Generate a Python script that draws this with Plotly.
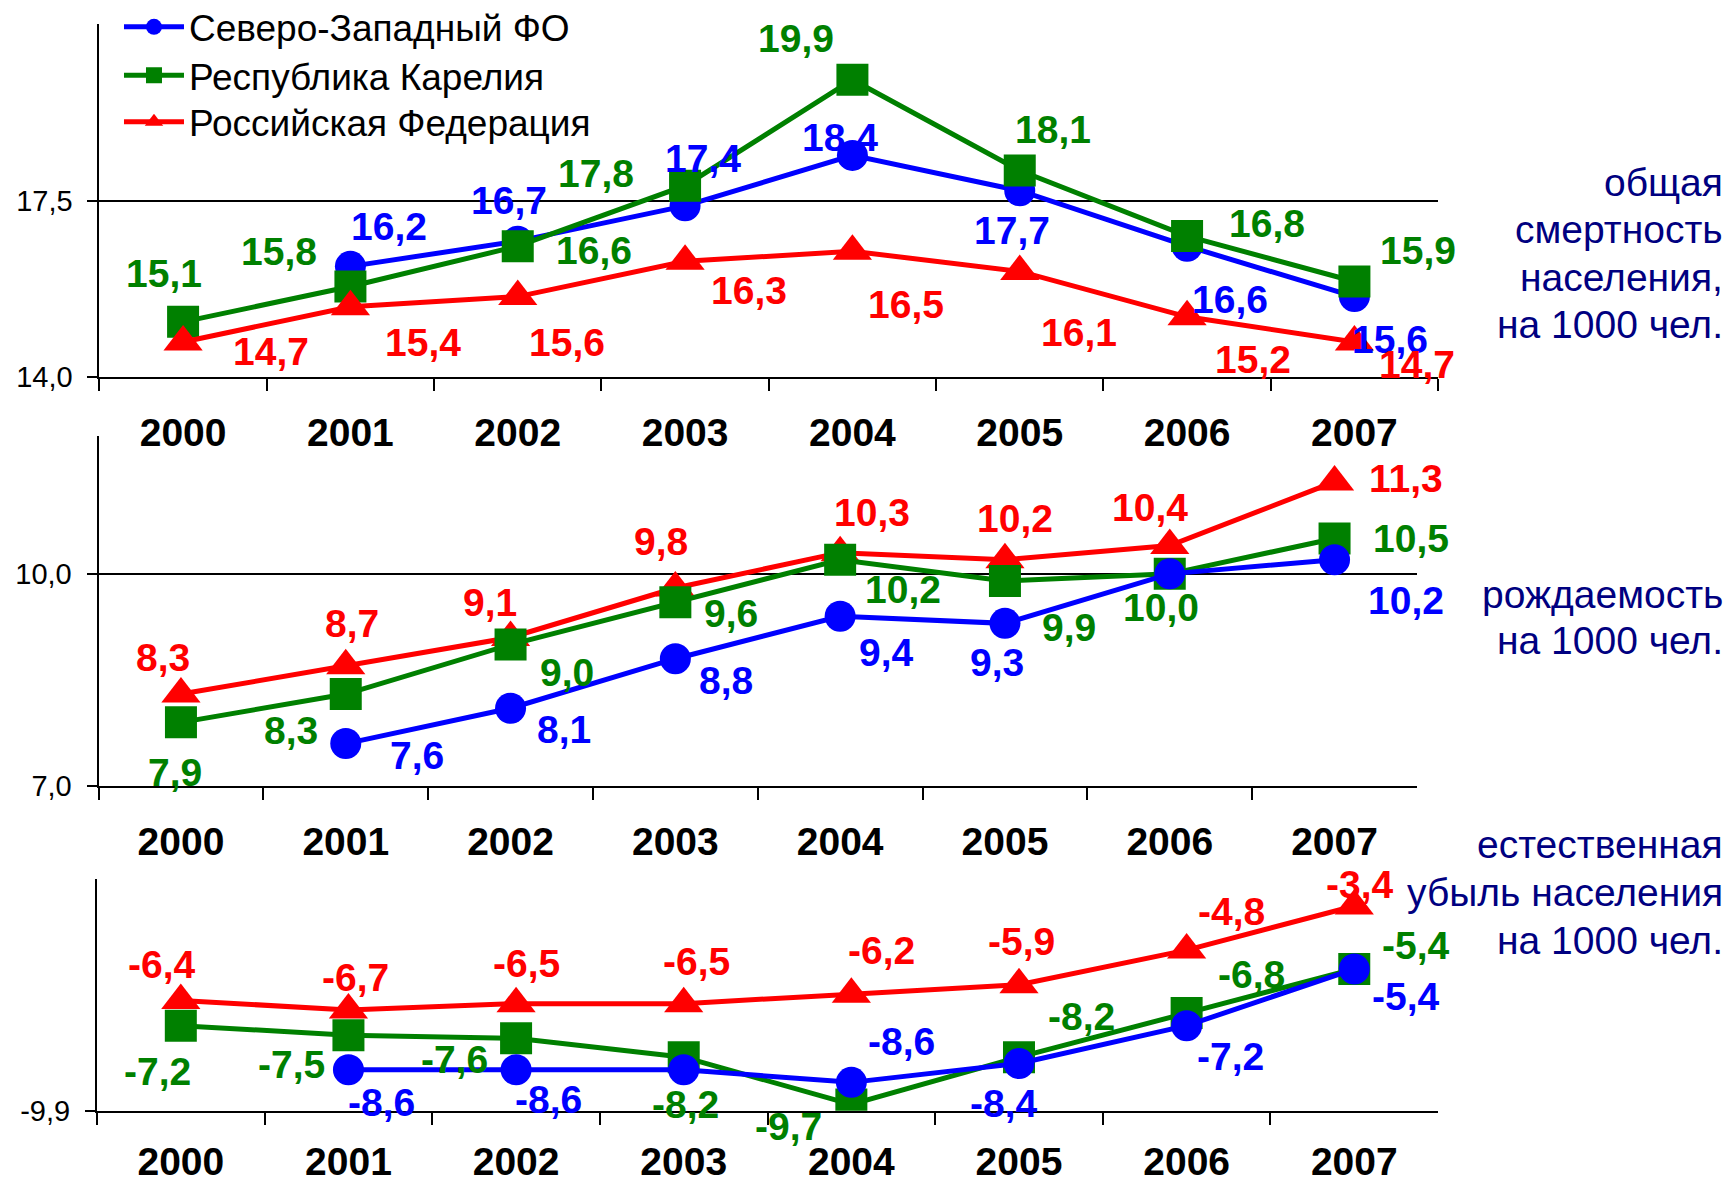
import plotly.graph_objects as go

# ---------------- data ----------------
years = ["2000", "2001", "2002", "2003", "2004", "2005", "2006", "2007"]
series_names = ["Северо-Западный ФО", "Республика Карелия", "Российская Федерация"]

# общая смертность населения, на 1000 чел.
nw_death = [None, 16.2, 16.7, 17.4, 18.4, 17.7, 16.6, 15.6]
kar_death = [15.1, 15.8, 16.6, 17.8, 19.9, 18.1, 16.8, 15.9]
rf_death = [14.7, 15.4, 15.6, 16.3, 16.5, 16.1, 15.2, 14.7]

# рождаемость на 1000 чел.
nw_birth = [None, 7.6, 8.1, 8.8, 9.4, 9.3, 10.0, 10.2]
kar_birth = [7.9, 8.3, 9.0, 9.6, 10.2, 9.9, 10.0, 10.5]
rf_birth = [8.3, 8.7, 9.1, 9.8, 10.3, 10.2, 10.4, 11.3]

# естественная убыль населения на 1000 чел.
nw_nat = [None, -8.6, -8.6, -8.6, -9.0, -8.4, -7.2, -5.4]
kar_nat = [-7.2, -7.5, -7.6, -8.2, -9.7, -8.2, -6.8, -5.4]
rf_nat = [-6.4, -6.7, -6.5, -6.5, -6.2, -5.9, -4.8, -3.4]
# data labels as printed on the original chart (None = no label)
nw_nat_labels = [None, "-8,6", "-8,6", None, "-8,6", "-8,4", "-7,2", "-5,4"]

panel_titles = [
    ["общая", "смертность", "населения,", "на 1000 чел."],
    ["рождаемость", "на 1000 чел."],
    ["естественная", "убыль населения", "на 1000 чел."],
]
y_ticks = [[14.0, 17.5], [7.0, 10.0], [-9.9]]

# ---------------- styling ----------------
FONT = "Liberation Sans, Arial, sans-serif"
BLUE, GREEN, RED, NAVY = "#0000FF", "#008000", "#FF0000", "#000080"
colors = [BLUE, GREEN, RED]
symbols = ["circle", "square", "triangle-up"]
msizes = [31, 32, 34]

# caption line centres, px from top
caption_line_y = [
    [182.3, 229.8, 277.3, 324.8],
    [594.3, 640.7],
    [845.0, 892.5, 940.0],
]

# label offsets in pixels (dx right, dy down); None = no label
off_death = [
    [None, (39, -40), (-9, -41), (18, -47), (-12, -18), (-8, 40), (43, 53), (36, 43)],
    [(-19, -48), (-71, -35), (76, 4), (-89, -12), (-56, -41), (33, -41), (80, -13), (64, -31)],
    [(88, 9), (73, 36), (49, 46), (64, 29), (54, 53), (59, 61), (66, 43), (63, 22)],
]
off_birth = [
    [None, (71, 12), (53, 21), (51, 22), (46, 36), (-8, 39), None, (71, 41)],
    [(-6, 50), (-55, 36), (56, 28), (56, 11), (63, 30), (64, 47), (-9, 34), (76, 0)],
    [(-18, -37), (6, -42), (-21, -35), (-14, -47), (32, -40), (10, -41), (-20, -38), (71, -3)],
]
off_nat = [
    [None, (33, 33), (32, 30), None, (50, -41), (-15, 40), (44, 31), (52, 27)],
    [(-23, 46), (-57, 29), (-62, 21), (2, 47), (-63, 22), (63, -41), (65, -39), (62, -24)],
    [(-19, -36), (7, -32), (10, -40), (13, -42), (30, -44), (3, -43), (45, -39), (6, -22)],
]


def fmt(v):
    return f"{v:.1f}".replace(".", ",")


panels = [
    dict(data=[nw_death, kar_death, rf_death], offs=off_death, order=[0, 1, 2],
         xdom=[0.0574, 0.8303], ydom=[0.6816, 0.9795], yrange=[14, 21],
         labels=[None, None, None], standoff=20),
    dict(data=[nw_birth, kar_birth, rf_birth], offs=off_birth, order=[2, 1, 0],
         xdom=[0.0569, 0.8181], ydom=[0.3367, 0.6321], yrange=[7, 11.95],
         labels=[None, None, None], standoff=20),
    dict(data=[nw_nat, kar_nat, rf_nat], offs=off_nat, order=[2, 1, 0],
         xdom=[0.0560, 0.8303], ydom=[0.0627, 0.2580], yrange=[-9.9, -2.55],
         labels=[nw_nat_labels, None, None], standoff=15),
]

legend_names = ["legend", "legend2", "legend3"]
legend_row_y = [27.3, 75.8, 122.3]  # px from top

fig = go.Figure()
annotations = []

for p_i, p in enumerate(panels):
    sfx = "" if p_i == 0 else str(p_i + 1)
    xref, yref = "x" + sfx, "y" + sfx
    for s in p["order"]:
        fig.add_trace(go.Scatter(
            x=years, y=p["data"][s], mode="lines+markers",
            name=series_names[s], showlegend=(p_i == 0), legend=legend_names[s],
            xaxis=xref, yaxis=yref,
            line=dict(color=colors[s], width=5),
            marker=dict(symbol=symbols[s], size=msizes[s], color=colors[s],
                        line=dict(width=0)),
            connectgaps=False,
        ))
    # data labels
    for s in range(3):
        vals = p["data"][s]
        for i, v in enumerate(vals):
            o = p["offs"][s][i]
            if v is None or o is None:
                continue
            lbls = p["labels"][s]
            txt = lbls[i] if lbls is not None else fmt(v)
            if txt is None:
                continue
            annotations.append(dict(
                x=i, y=v, xref=xref, yref=yref, text=txt, showarrow=False,
                xanchor="center", yanchor="middle", xshift=o[0], yshift=-o[1],
                font=dict(family=FONT, size=39, color=colors[s], weight="bold"),
            ))

    axis_common = dict(showline=True, linecolor="black", linewidth=2,
                       zeroline=False, automargin=False)
    fig.update_layout(**{
        ("xaxis" + sfx): dict(
            domain=p["xdom"], anchor=yref, type="category",
            categoryorder="array", categoryarray=years, range=[-0.5, 7.5],
            ticks="outside", tickson="boundaries", ticklen=12, tickwidth=2,
            tickcolor="black", showgrid=False, ticklabelstandoff=p["standoff"],
            tickfont=dict(family=FONT, size=39, color="black", weight="bold"),
            **axis_common),
        ("yaxis" + sfx): dict(
            domain=p["ydom"], anchor=xref, range=p["yrange"],
            tickvals=y_ticks[p_i], ticktext=[fmt(t) for t in y_ticks[p_i]],
            ticks="outside", ticklen=10, tickwidth=2, tickcolor="black",
            showgrid=True, gridcolor="black", gridwidth=2, ticklabelstandoff=9,
            tickfont=dict(family=FONT, size=29, color="black"),
            **axis_common),
    })

# right-side panel captions (one annotation per line)
for lines, ys in zip(panel_titles, caption_line_y):
    for t, ly in zip(lines, ys):
        annotations.append(dict(
            x=0.996, y=1 - ly / 1185, xref="paper", yref="paper", text=t,
            showarrow=False, xanchor="right", yanchor="middle", align="right",
            font=dict(family=FONT, size=39, color=NAVY),
        ))

legend_layout = {}
for name, ry in zip(legend_names, legend_row_y):
    legend_layout[name] = dict(
        x=0.0687, y=1 - ry / 1185, xanchor="left", yanchor="middle",
        bgcolor="rgba(0,0,0,0)", borderwidth=0, itemwidth=60,
        font=dict(family=FONT, size=37, color="black"),
    )

fig.update_layout(
    width=1732, height=1185, autosize=False,
    margin=dict(l=0, r=0, t=0, b=0, autoexpand=False),
    paper_bgcolor="white", plot_bgcolor="white",
    separators=", ",
    annotations=annotations,
    font=dict(family=FONT),
    **legend_layout,
)

page_fix = (
    "var de=document.documentElement, b=document.body;"
    "de.style.margin='0';de.style.overflow='hidden';"
    "b.style.margin='0';b.style.overflow='hidden';"
)

fig.write_html(
    "out.html",
    config={"responsive": False, "displayModeBar": False},
    post_script=page_fix,
)
